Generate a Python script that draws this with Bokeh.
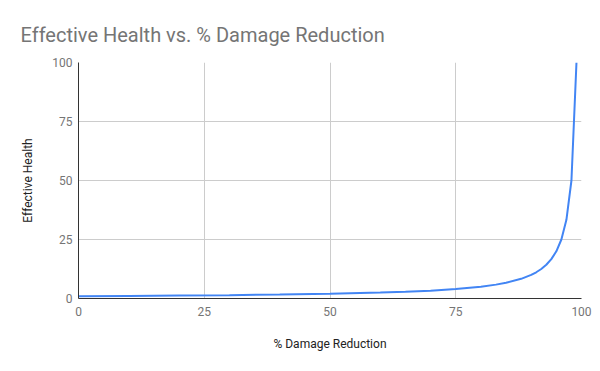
from bokeh.plotting import figure
from bokeh.models import Range1d, FixedTicker, Title
from bokeh.embed import file_html
from bokeh.resources import INLINE

damage_reduction = [0, 10, 20, 30, 40, 50, 60, 65, 70, 75, 80, 83, 85, 88, 90, 91, 92, 93, 94, 95, 96, 97, 98, 99]
effective_health = [1.0, 1.11, 1.25, 1.43, 1.67, 2.0, 2.5, 2.86, 3.33, 4.0, 5.0, 5.88, 6.67, 8.33,
                    10.0, 11.11, 12.5, 14.29, 16.67, 20.0, 25.0, 33.33, 50.0, 100.0]
x_ticks = [0, 25, 50, 75, 100]
y_ticks = [0, 25, 50, 75, 100]

p = figure(width=592, height=363, output_backend="svg", toolbar_location=None,
           x_range=Range1d(0, 100), y_range=Range1d(0, 100),
           min_border_left=78, min_border_right=11, min_border_top=62, min_border_bottom=65)

p.title = Title(text="Effective Health vs. % Damage Reduction", text_font="Roboto",
                text_font_size="20px", text_color="#757575", text_font_style="normal",
                align="left", offset=-58, standoff=31)

p.line(damage_reduction, effective_health, line_color="#4285F4", line_width=2)

p.outline_line_color = None
p.background_fill_color = "white"
p.border_fill_color = "white"

for ax in (p.xaxis, p.yaxis):
    ax.major_tick_line_color = None
    ax.minor_tick_line_color = None
    ax.major_tick_out = 0
    ax.major_tick_in = 0
    ax.minor_tick_out = 0
    ax.axis_line_color = "#333333"
    ax.axis_line_width = 1
    ax.major_label_text_font = "Roboto"
    ax.major_label_text_font_size = "12px"
    ax.major_label_text_color = "#757575"
    ax.axis_label_text_font = "Roboto"
    ax.axis_label_text_font_size = "12px"
    ax.axis_label_text_color = "#222222"
    ax.axis_label_text_font_style = "normal"

p.xaxis.ticker = FixedTicker(ticks=x_ticks)
p.yaxis.ticker = FixedTicker(ticks=y_ticks)
p.xaxis.axis_label = "% Damage Reduction"
p.yaxis.axis_label = "Effective Health"
p.xaxis.major_label_standoff = 8
p.yaxis.major_label_standoff = 6
p.xaxis.axis_label_standoff = 18
p.yaxis.axis_label_standoff = 14

p.xgrid.ticker = FixedTicker(ticks=x_ticks)
p.ygrid.ticker = FixedTicker(ticks=y_ticks)
p.grid.grid_line_color = "#cccccc"
p.grid.grid_line_width = 1

open("out.html", "w").write(file_html(p, INLINE))
